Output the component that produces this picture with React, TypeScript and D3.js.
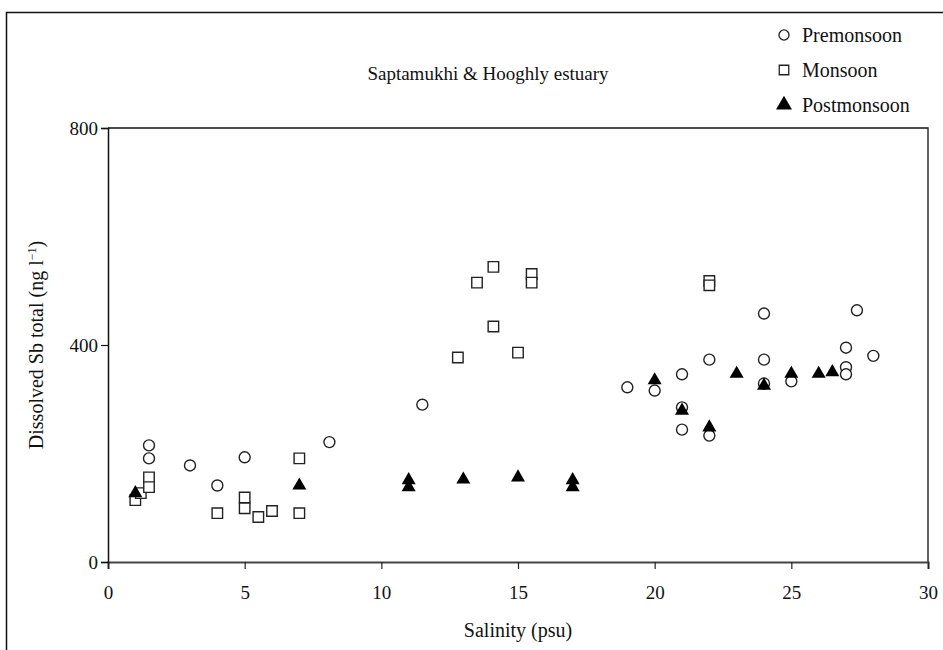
import { useEffect, useRef } from "react";
import * as d3 from "d3";

// salinity (psu), dissolved Sb (ng l-1)
const premonsoon: [number, number][] = [
  [1.5, 215], [1.5, 191], [3, 178], [4, 141], [5, 193], [8.1, 221],
  [11.5, 290], [19, 322], [20, 316], [21, 346], [21, 285], [21, 244],
  [22, 373], [22, 233], [24, 458], [24, 373], [24, 329], [25, 333],
  [27, 395], [27, 359], [27, 346], [27.4, 464], [28, 380],
];

const monsoon: [number, number][] = [
  [1, 114], [1.2, 127], [1.5, 156], [1.5, 138], [4, 90], [5, 119],
  [5, 99], [5.5, 83], [6, 94], [7, 191], [7, 90], [12.8, 377],
  [13.5, 515], [14.1, 544], [14.1, 434], [15, 386], [15.5, 531],
  [15.5, 515], [22, 518], [22, 510],
];

const postmonsoon: [number, number][] = [
  [1, 127], [7, 141], [11, 151], [11, 138], [13, 152], [15, 156],
  [17, 151], [17, 138], [20, 335], [21, 279], [22, 248], [23, 347],
  [24, 325], [25, 347], [26, 347], [26.5, 350],
];

const xTicks = [0, 5, 10, 15, 20, 25, 30];
const yTicks = [0, 400, 800];
const seriesNames = ["Premonsoon", "Monsoon", "Postmonsoon"];

const FONT = "'Liberation Serif', 'Times New Roman', serif";

export default function App() {
  const ref = useRef<SVGSVGElement | null>(null);

  useEffect(() => {
    const width = 943;
    const height = 650;
    const margin = { top: 128, right: 15, bottom: 88, left: 108 };

    const svg = d3.select(ref.current);
    svg.selectAll("*").remove();

    const x = d3
      .scaleLinear()
      .domain([0, 30])
      .range([margin.left, width - margin.right]);
    const y = d3
      .scaleLinear()
      .domain([0, 800])
      .range([height - margin.bottom, margin.top]);

    // outer frame (only left + top show in the picture)
    svg
      .append("path")
      .attr("d", `M6.5,650 V12.5 H943`)
      .attr("fill", "none")
      .attr("stroke", "#111")
      .attr("stroke-width", 1.5);

    // plot box
    svg
      .append("path")
      .attr("d", `M${x(0)},${y(800)} H${x(30)} V${y(0)}`)
      .attr("fill", "none")
      .attr("stroke", "#111")
      .attr("stroke-width", 1.3);

    const xAxis = svg
      .append("g")
      .attr("transform", `translate(0,${y(0)})`)
      .call(d3.axisBottom(x).tickValues(xTicks).tickSize(7).tickPadding(17));
    xAxis.select(".domain").attr("stroke", "#444").attr("stroke-width", 2);
    xAxis.selectAll(".tick line").attr("stroke", "#222").attr("stroke-width", 1.2);
    xAxis
      .selectAll("text")
      .attr("font-family", FONT)
      .attr("font-size", 19)
      .attr("fill", "#111");

    const yAxis = svg
      .append("g")
      .attr("transform", `translate(${x(0)},0)`)
      .call(d3.axisLeft(y).tickValues(yTicks).tickSize(7).tickPadding(3));
    yAxis.select(".domain").attr("stroke", "#111").attr("stroke-width", 1.5);
    yAxis.selectAll(".tick line").attr("stroke", "#111").attr("stroke-width", 1.2);
    yAxis
      .selectAll("text")
      .attr("font-family", FONT)
      .attr("font-size", 19)
      .attr("fill", "#111");

    const stroke = "#222";
    const circle = d3.symbol().type(d3.symbolCircle).size(95);
    const square = d3.symbol().type(d3.symbolSquare).size(110);
    const triangle = d3.symbol().type(d3.symbolTriangle).size(85);

    svg
      .append("g")
      .selectAll("path")
      .data(monsoon)
      .enter()
      .append("path")
      .attr("d", square)
      .attr("transform", (d) => `translate(${x(d[0])},${y(d[1])})`)
      .attr("fill", "white")
      .attr("stroke", stroke)
      .attr("stroke-width", 1.4);

    svg
      .append("g")
      .selectAll("path")
      .data(premonsoon)
      .enter()
      .append("path")
      .attr("d", circle)
      .attr("transform", (d) => `translate(${x(d[0])},${y(d[1])})`)
      .attr("fill", "white")
      .attr("stroke", stroke)
      .attr("stroke-width", 1.4);

    svg
      .append("g")
      .selectAll("path")
      .data(postmonsoon)
      .enter()
      .append("path")
      .attr("d", triangle)
      .attr("transform", (d) => `translate(${x(d[0])},${y(d[1])})`)
      .attr("fill", "#000");

    // title
    svg
      .append("text")
      .attr("x", 488)
      .attr("y", 80)
      .attr("text-anchor", "middle")
      .attr("font-family", FONT)
      .attr("font-size", 19)
      .attr("fill", "#111")
      .text("Saptamukhi & Hooghly estuary");

    // axis titles
    svg
      .append("text")
      .attr("x", (x(0) + x(30)) / 2)
      .attr("y", 637)
      .attr("text-anchor", "middle")
      .attr("font-family", FONT)
      .attr("font-size", 20)
      .attr("fill", "#111")
      .text("Salinity (psu)");

    const yl = svg
      .append("text")
      .attr("transform", `translate(43,${(y(0) + y(800)) / 2}) rotate(-90)`)
      .attr("text-anchor", "middle")
      .attr("font-family", FONT)
      .attr("font-size", 20)
      .attr("fill", "#111");
    yl.append("tspan").text("Dissolved Sb total (ng l");
    yl.append("tspan").attr("dy", -7).attr("font-size", 12).text("−1");
    yl.append("tspan").attr("dy", 7).text(")");

    // legend
    const legendShapes = [d3.symbolCircle, d3.symbolSquare, d3.symbolTriangle];
    const legendSizes = [80, 90, 110];
    const legend = svg
      .append("g")
      .selectAll("g")
      .data(seriesNames)
      .enter()
      .append("g")
      .attr("transform", (_d, i) => `translate(784,${35 + i * 35})`);
    legend
      .append("path")
      .attr("d", (_d, i) => d3.symbol().type(legendShapes[i]).size(legendSizes[i])())
      .attr("fill", (_d, i) => (i === 2 ? "#000" : "white"))
      .attr("stroke", (_d, i) => (i === 2 ? "none" : stroke))
      .attr("stroke-width", 1.3);
    legend
      .append("text")
      .attr("x", 18)
      .attr("y", 7)
      .attr("font-family", FONT)
      .attr("font-size", 20)
      .attr("fill", "#111")
      .text((d) => d);
  }, []);

  return (
    <>
      <style>{`body{margin:0}`}</style>
      <svg ref={ref} width={943} height={650} style={{ display: "block", background: "white" }} />
    </>
  );
}
